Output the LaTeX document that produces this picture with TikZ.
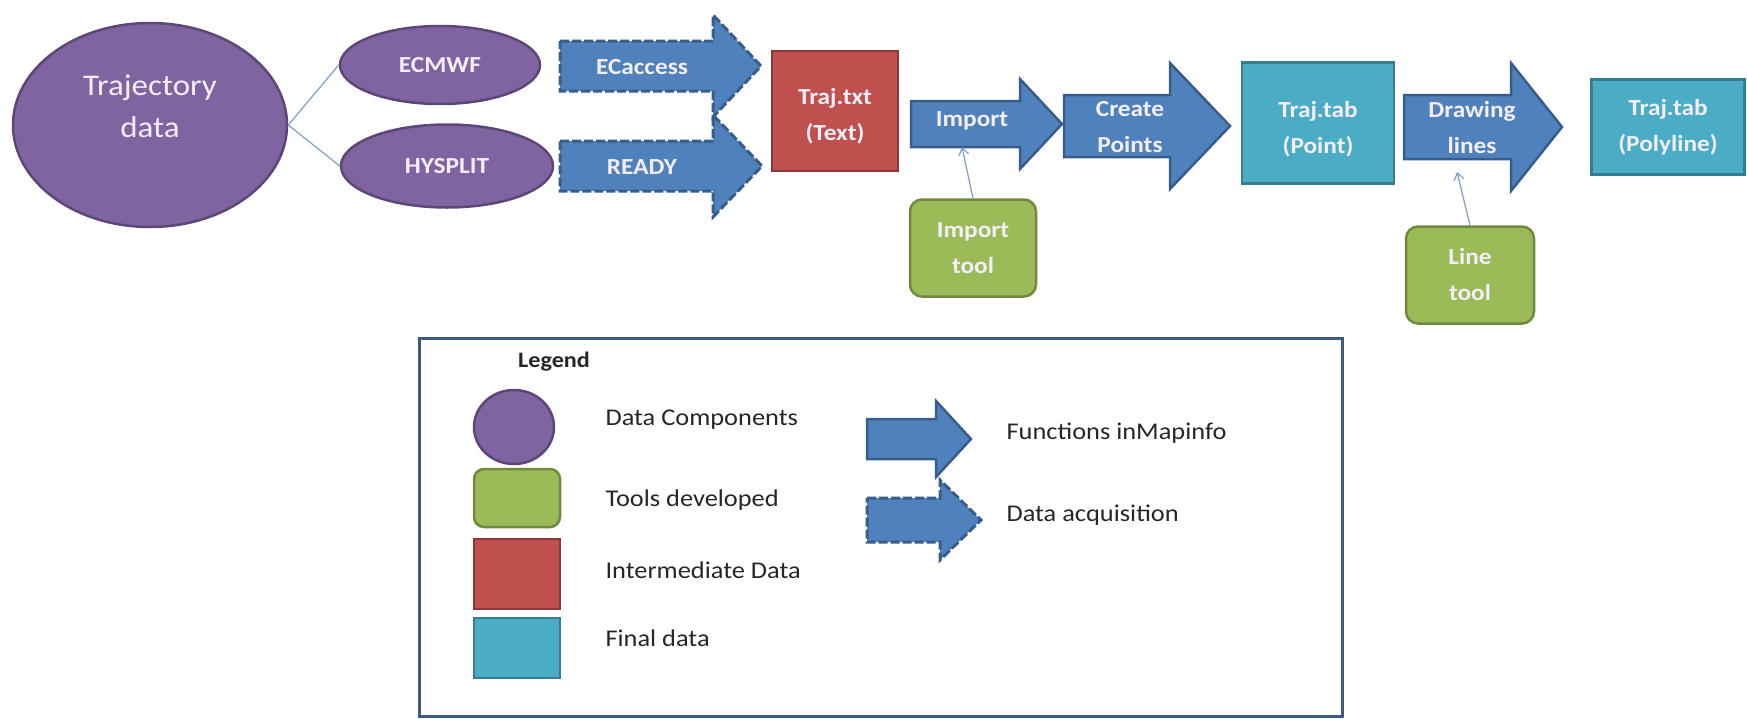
\documentclass[tikz,border=0pt]{standalone}
\usepackage{fontspec}
\setmainfont{Carlito}
\newfontfamily\widefont[FakeStretch=1.1]{Carlito}
\usetikzlibrary{arrows.meta,shapes.geometric}
\definecolor{purp}{HTML}{8064A2}
\definecolor{purpD}{HTML}{5C4776}
\definecolor{blu}{HTML}{4F81BD}
\definecolor{bluD}{HTML}{385D8A}
\definecolor{redf}{HTML}{C0504D}
\definecolor{redD}{HTML}{8C3836}
\definecolor{teal}{HTML}{4BACC6}
\definecolor{tealD}{HTML}{357D91}
\definecolor{grn}{HTML}{9BBB59}
\definecolor{grnD}{HTML}{71893F}
\definecolor{conn}{HTML}{7F9FC6}
\definecolor{legbd}{HTML}{3D5A80}
\definecolor{shapetxt}{HTML}{F4EEF8}
\newcommand\flowarrow[7]{%
  \draw[#1] (#2,{#5-#6}) -- (#3,{#5-#6}) -- (#3,{#5-#7}) -- (#4,#5)
    -- (#3,{#5+#7}) -- (#3,{#5+#6}) -- (#2,{#5+#6}) -- cycle;}
\tikzset{
  x=1pt, y=-1pt,
  shapetext/.style={text=shapetxt, font=\widefont\bfseries\fontsize{23}{36}\selectfont, align=center},
  datacomp/.style={ellipse, fill=purp, draw=purpD, line width=2.5pt, inner sep=0pt, shapetext},
  solidarrow/.style={fill=blu, draw=bluD, line width=2.5pt, line join=miter},
  dasharrow/.style={fill=blu, draw=bluD, line width=3pt, dash pattern=on 9pt off 3pt},
  interbox/.style={rectangle, fill=redf, draw=redD, line width=2.5pt, inner sep=0pt, shapetext},
  finalbox/.style={rectangle, fill=teal, draw=tealD, line width=2.5pt, inner sep=0pt, shapetext},
  toolbox/.style={rectangle, rounded corners=12pt, fill=grn, draw=grnD, line width=2.5pt, inner sep=0pt, shapetext},
  arrtext/.style={shapetext},
  connline/.style={draw=conn, line width=1.2pt},
  connarrow/.style={draw=conn, line width=1.2pt, -{Straight Barb[length=7pt,width=10pt]}},
  legtext/.style={anchor=west, font=\widefont\fontsize{24}{28}\selectfont, text=black!85},
}
\begin{document}
\begin{tikzpicture}
\useasboundingbox (0,0) rectangle (1747,718);
% data components
\node[datacomp, minimum width=274pt, minimum height=204pt] (traj) at (150,125) {};
\node[shapetext, font=\widefont\fontsize{30}{42}\selectfont] (trajlabel) at (150,106) {Trajectory\\data};
\node[datacomp, minimum width=200pt, minimum height=78pt] (ecmwf) at (440,65) {ECMWF};
\node[datacomp, minimum width=212pt, minimum height=83pt] (hysplit) at (447,166) {HYSPLIT};
\draw[connline] (traj.east) -- (ecmwf.west);
\draw[connline] (traj.east) -- (hysplit.west);
% acquisition arrows
\flowarrow{dasharrow}{560}{713}{761}{66}{25}{51}
\node[arrtext] (ecaccess) at (642,67) {ECaccess};
\flowarrow{dasharrow}{560}{713}{762}{166}{25}{51}
\node[arrtext] (ready) at (642,167) {READY};
% intermediate
\node[interbox, minimum width=126pt, minimum height=120pt] (trajtxt) at (835,111) {};
\node[shapetext] (trajtxtlabel) at (835,116) {Traj.txt\\(Text)};
% import
\flowarrow{solidarrow}{911}{1020}{1062}{124}{23}{45}
\node[arrtext] (import) at (972,121) {Import};
% create points
\flowarrow{solidarrow}{1064}{1170}{1230}{126}{31}{63}
\node[arrtext] (create) at (1130,127) {Create\\Points};
% point table
\node[finalbox, minimum width=152pt, minimum height=121pt] (point) at (1318,123) {};
\node[shapetext] (pointlabel) at (1318,129) {Traj.tab\\(Point)};
% drawing lines
\flowarrow{solidarrow}{1404}{1511}{1562}{127}{32}{64}
\node[arrtext] (drawing) at (1472,128) {Drawing\\lines};
% polyline table
\node[finalbox, minimum width=153pt, minimum height=95pt] (polyline) at (1668,127) {Traj.tab\\(Polyline)};
% tools
\node[toolbox, minimum width=126pt, minimum height=97pt] (importtool) at (973,248) {Import\\tool};
\node[toolbox, minimum width=128pt, minimum height=97pt] (linetool) at (1470,275) {Line\\tool};
\coordinate (importin) at (962,147);
\coordinate (linein) at (1457,172);
\draw[connarrow] (importtool.north) -- (importin);
\draw[connarrow] (linetool.north) -- (linein);
% legend
\draw[draw=legbd, line width=3pt] (419,338) rectangle (1342,716);
\node[font=\widefont\bfseries\fontsize{22}{26}\selectfont, text=black!85] (legendtitle) at (554,362) {Legend};
\node[ellipse, fill=purp, draw=purpD, line width=2.5pt, minimum width=80pt, minimum height=74pt, inner sep=0pt] (legcirc) at (514,427) {};
\node[rectangle, rounded corners=10pt, fill=grn, draw=grnD, line width=2.5pt, minimum width=86pt, minimum height=58pt] (leggrn) at (517,498) {};
\node[rectangle, fill=redf, draw=redD, line width=2.5pt, minimum width=86pt, minimum height=70pt] (legred) at (517,574) {};
\node[rectangle, fill=teal, draw=tealD, line width=2.5pt, minimum width=86pt, minimum height=60pt] (legteal) at (517,648) {};
\node[legtext] (t1) at (602,420) {Data Components};
\node[legtext] (t2) at (602,500) {Tools developed};
\node[legtext] (t3) at (602,570) {Intermediate Data};
\node[legtext] (t4) at (602,638) {Final data};
\flowarrow{solidarrow}{867}{936}{971}{439}{20}{38}
\flowarrow{dasharrow}{867}{940}{981}{520}{22}{40}
\node[legtext] (t5) at (1003,433) {Functions inMapinfo};
\node[legtext] (t6) at (1003,515) {Data acquisition};
\end{tikzpicture}
\end{document}
